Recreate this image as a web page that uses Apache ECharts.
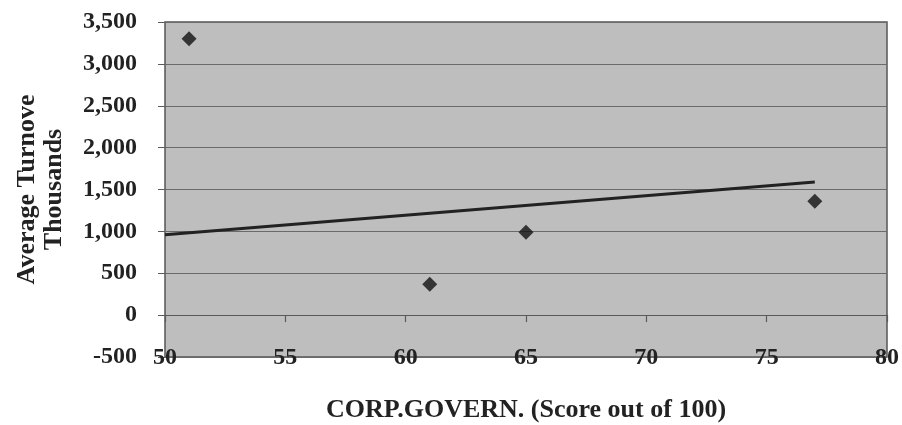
<!DOCTYPE html>
<html>
<head>
<meta charset="utf-8">
<script src="https://cdn.jsdelivr.net/npm/echarts@6/dist/echarts.min.js"></script>
<style>html,body{margin:0;padding:0;background:#fff}#c{width:902px;height:425px}</style>
</head>
<body>
<div id="c"></div>
<script>
const scores = [51, 61, 65, 77];
const turnover = [3300, 370, 990, 1360];
const trendX = [50, 77];
const trendY = [960, 1590];
const xTicks = [50, 55, 60, 65, 70, 75, 80];
const yTicks = [-500, 0, 500, 1000, 1500, 2000, 2500, 3000, 3500];

const font = 'Liberation Serif';
const chart = echarts.init(document.getElementById('c'), null, {renderer: 'canvas'});
chart.setOption({
  backgroundColor: '#ffffff',
  animation: false,
  grid: {left: 165, right: 15, top: 22, bottom: 68, show: true, outerBoundsMode: 'none', containLabel: false,
         backgroundColor: '#bebebe', borderColor: '#555', borderWidth: 1.5},
  xAxis: [{
    type: 'value', min: xTicks[0], max: xTicks[xTicks.length - 1], interval: 5,
    position: 'bottom',
    axisLine: {show: false, onZero: false},
    axisTick: {show: false},
    splitLine: {show: false},
    axisLabel: {fontFamily: font, fontWeight: 'bold', fontSize: 24, color: '#222',
                verticalAlign: 'middle', margin: 1},
    name: 'CORP.GOVERN. (Score out of 100)', nameLocation: 'middle', nameGap: 40,
    nameTextStyle: {fontFamily: font, fontWeight: 'bold', fontSize: 26, color: '#222', verticalAlign: 'top'}
  }, {
    type: 'value', min: xTicks[0], max: xTicks[xTicks.length - 1], interval: 5,
    position: 'bottom',
    axisLine: {show: true, onZero: true, lineStyle: {color: '#5a5a5a', width: 1.2}},
    axisTick: {show: true, length: 7, lineStyle: {color: '#5a5a5a', width: 1.2}},
    axisLabel: {show: false},
    splitLine: {show: false}
  }],
  yAxis: {
    type: 'value', min: yTicks[0], max: yTicks[yTicks.length - 1], interval: 500,
    axisLine: {show: false},
    axisTick: {show: true, length: 7, lineStyle: {color: '#5a5a5a'}},
    splitLine: {show: true, lineStyle: {color: '#6a6a6a', width: 1.2}},
    axisLabel: {fontFamily: font, fontWeight: 'bold', fontSize: 24, color: '#222', margin: 28,
                formatter: v => v.toLocaleString('en-US')},
    name: 'Average Turnove\nThousands', nameLocation: 'middle', nameGap: 97, nameRotate: 90,
    nameTextStyle: {fontFamily: font, fontWeight: 'bold', fontSize: 26, color: '#222', lineHeight: 27, align: 'center'}
  },
  series: [{
    type: 'scatter', xAxisIndex: 0,
    data: scores.map((s, i) => [s, turnover[i]]),
    symbol: 'diamond', symbolSize: 15,
    itemStyle: {color: '#111'}
  }, {
    type: 'line', xAxisIndex: 0,
    data: trendX.map((s, i) => [s, trendY[i]]),
    showSymbol: false, symbol: 'none',
    lineStyle: {color: '#222', width: 3}
  }]
});
</script>
</body>
</html>
